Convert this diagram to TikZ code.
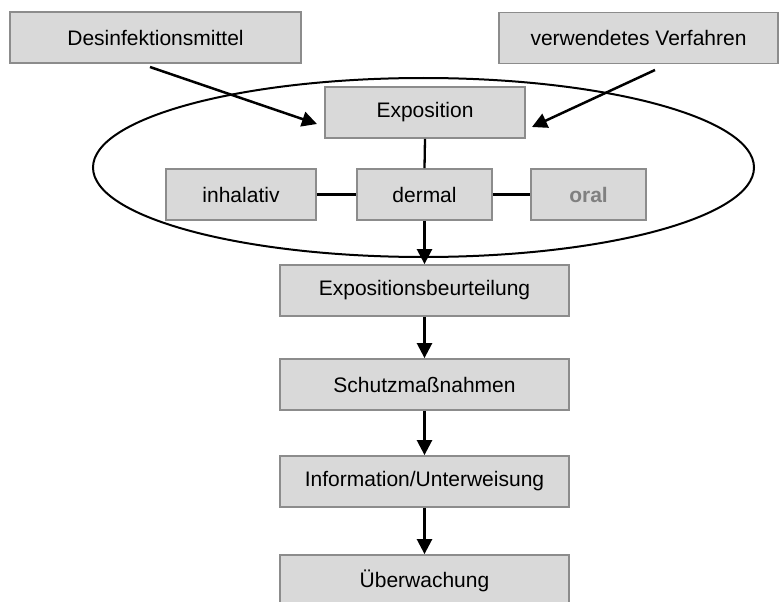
\documentclass[tikz,border=0pt]{standalone}
\usepackage{fontspec}
\setmainfont{Liberation Sans}
\usetikzlibrary{arrows.meta,shapes.geometric}
\definecolor{boxfill}{HTML}{D9D9D9}
\definecolor{boxline}{HTML}{8C8C8C}
\definecolor{oralgray}{HTML}{808080}
\begin{document}
\begin{tikzpicture}[x=1pt,y=-1pt,
  box/.style={draw=boxline, fill=boxfill, line width=1.8pt, inner sep=0pt,
    minimum height=51pt, font=\fontsize{21}{25}\selectfont},
  con/.style={line width=2.3pt},
  arr/.style={line width=2.5pt, -{Triangle[length=15pt,width=15pt]}}]
\useasboundingbox (0,0) rectangle (779,602);
\clip (0,0) rectangle (779,602);
\node[draw, ellipse, line width=2pt, inner sep=0pt, minimum width=661pt, minimum height=179pt] (ring) at (423.5,167.5) {};
\node[box, minimum width=291pt] (des) at (155.5,37.5) {Desinfektionsmittel};
\node[box, minimum width=279pt] (ver) at (638.5,38) {verwendetes Verfahren};
\node[box, minimum width=200pt] (expo) at (425,112.5) {Exposition};
\node[box, minimum width=150pt] (inh) at (241,194.5) {inhalativ};
\node[box, minimum width=135pt] (der) at (424.5,194.5) {dermal};
\node[box, minimum width=115pt, text=oralgray, font=\fontsize{21}{25}\selectfont\bfseries] (oral) at (588.5,194.5) {oral};
\node[box, minimum width=289pt] (eb) at (424.5,290.5) {Expositionsbeurteilung};
\node[box, minimum width=289pt] (sm) at (424.5,384.5) {Schutzmaßnahmen};
\node[box, minimum width=289pt] (iu) at (424.5,481.5) {Information/Unterweisung};
\node[box, minimum width=289pt] (ue) at (424.5,580.5) {Überwachung};
\coordinate (a1s) at (150,67);
\coordinate (a1e) at (317,124);
\coordinate (a2s) at (655,70);
\coordinate (a2e) at (532,127);
\draw[arr] (a1s) -- (a1e);
\draw[arr] (a2s) -- (a2e);
\draw[con] (expo.south) -- (der.north);
\draw[con] (inh.east) -- (der.west);
\draw[con] (der.east) -- (oral.west);
\draw[arr] (der.south) -- (eb.north);
\draw[arr] (eb.south) -- (sm.north);
\draw[arr] (sm.south) -- (iu.north);
\draw[arr] (iu.south) -- (ue.north);
\end{tikzpicture}
\end{document}
